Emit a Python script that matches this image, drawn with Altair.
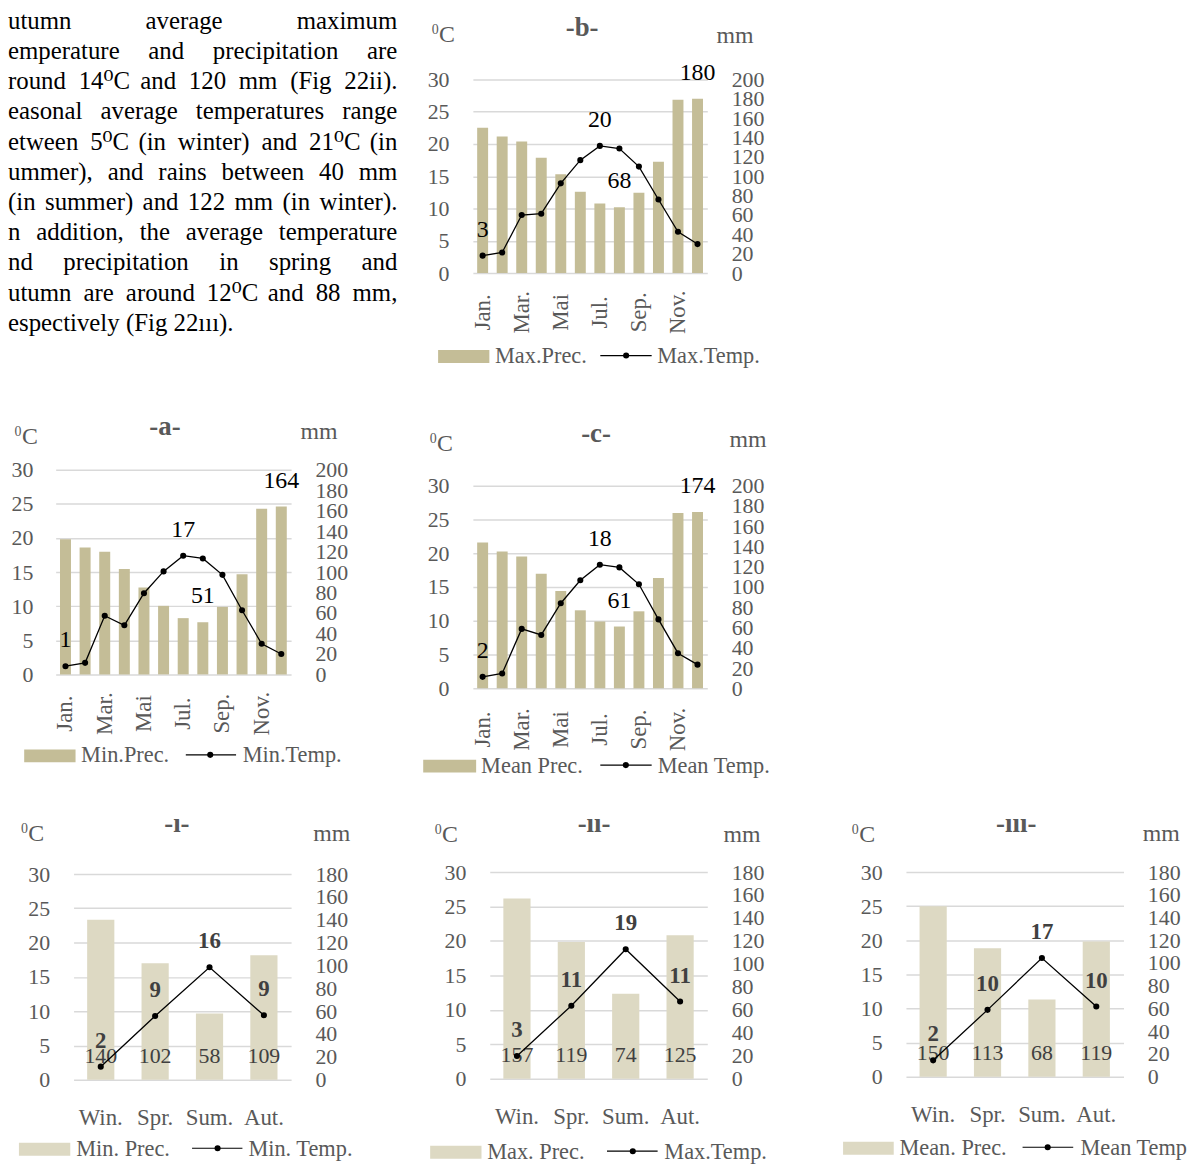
import altair as alt
import pandas as pd

FONT = "Liberation Serif, DejaVu Serif"
GRAY = "#595959"
DARK = "#404040"
TAN = "#C4BD97"
LIGHT = "#DDD9C3"
GRID = "#D9D9D9"
NOVIEW = alt.ViewBackground(stroke=None, strokeWidth=0)

# ---------------- data ----------------
months = ["Jan.", "Feb.", "Mar.", "Apr.", "Mai", "Jun.", "Jul.", "Aug.", "Sep.", "Oct.", "Nov.", "Dec."]
month_ticks = ["Jan.", "Mar.", "Mai", "Jul.", "Sep.", "Nov."]

min_temp = [1.2, 1.7, 8.6, 7.2, 11.9, 15.1, 17.4, 17.0, 14.6, 9.4, 4.5, 3.0]
min_prec = [132, 124, 120, 103, 85, 67, 55, 51, 66, 98, 162, 164]
max_temp = [2.7, 3.2, 9.0, 9.2, 13.9, 17.5, 19.7, 19.3, 16.5, 11.4, 6.4, 4.5]
max_prec = [150, 141, 136, 119, 102, 84, 72, 68, 83, 115, 179, 180]
mean_temp = [1.7, 2.2, 8.8, 7.9, 12.6, 16.0, 18.3, 17.9, 15.4, 10.2, 5.2, 3.5]
mean_prec = [144, 135, 130, 113, 96, 77, 66, 61, 76, 109, 173, 174]

seasons = ["Win.", "Spr.", "Sum.", "Aut."]
s_min_temp = [1.9, 9.3, 16.4, 9.4]
s_min_prec = [140, 102, 58, 109]
s_max_temp = [3.3, 10.6, 18.8, 11.2]
s_max_prec = [157, 119, 74, 125]
s_mean_temp = [2.4, 9.8, 17.4, 10.3]
s_mean_prec = [150, 113, 68, 119]

para_lines = [
    "utumn average maximum",
    "emperature and precipitation are",
    "round 14\u2070C and 120 mm (Fig 22ii).",
    "easonal average temperatures range",
    "etween 5\u2070C (in winter) and 21\u2070C (in",
    "ummer), and rains between 40 mm",
    "(in summer) and 122 mm (in winter).",
    "n addition, the average temperature",
    "nd precipitation in spring and",
    "utumn are around 12\u2070C and 88 mm,",
    "espectively (Fig 22\u0131\u0131\u0131).",
]

one = pd.DataFrame({"k": [0]})

# Times / Liberation Serif advance widths (em) used to justify the paragraph
CW = {" ": 0.25, "(": 0.333, ")": 0.333, ".": 0.25, ",": 0.25, "\u2070": 0.3,
      "C": 0.667, "F": 0.556, "S": 0.556, "I": 0.333, "\u0131": 0.278,
      "a": 0.444, "b": 0.5, "c": 0.444, "d": 0.5, "e": 0.444, "f": 0.333, "g": 0.5,
      "h": 0.5, "i": 0.278, "j": 0.278, "k": 0.5, "l": 0.278, "m": 0.778, "n": 0.5,
      "o": 0.5, "p": 0.5, "q": 0.5, "r": 0.333, "s": 0.389, "t": 0.278, "u": 0.5,
      "v": 0.5, "w": 0.722, "x": 0.5, "y": 0.5, "z": 0.444}


def tw(s, fs):
    return sum(CW.get(ch, 0.5) for ch in s) * fs


def frame(L, T, W, H, R, B):
    return alt.Chart(one).mark_rect(opacity=0, fillOpacity=0, strokeOpacity=0).encode(
        x=alt.value(-L), x2=alt.value(W + R), y=alt.value(-T), y2=alt.value(H + B))


def spacer(w, h):
    return alt.Chart(one).mark_rect(opacity=0, fillOpacity=0, strokeOpacity=0).encode(
        x=alt.value(0), x2=alt.value(w), y=alt.value(0), y2=alt.value(h)
    ).properties(width=w, height=h, view=NOVIEW)


def wrap(ch, h=1):
    return alt.concat(spacer(1, h), ch, columns=1, spacing=0)


def note(s, x, y, size, color=GRAY, weight="normal", align="center", baseline="middle"):
    return alt.Chart(one).mark_text(
        text=s, font=FONT, fontSize=size, fontWeight=weight, color=color,
        align=align, baseline=baseline).encode(x=alt.value(x), y=alt.value(y))


def panel(cats, temp, prec, title, leg_labels, g, annual):
    W, H, L, T, R, B = g["W"], g["H"], g["L"], g["T"], g["R"], g["B"]
    df = pd.DataFrame({"cat": cats, "temp": temp, "prec": prec})
    barcol = TAN if annual else LIGHT
    pdom = 200 if annual else 180
    if annual:
        df["tlab"] = [f"{v:.0f}" if v in (min(temp), max(temp)) else "" for v in temp]
        df["plab"] = [f"{v:.0f}" if v in (min(prec), max(prec)) else "" for v in prec]
        xaxis = alt.Axis(values=month_ticks, labelAngle=270, labelAlign="center",
                         labelBaseline="middle", labelPadding=g["xpad"], labelFontSize=23,
                         labelColor=GRAY, labelFont=FONT, domain=False, ticks=False,
                         grid=False, labelOverlap=False, title=None)
        sc = alt.Scale(type="band", paddingInner=0.44, paddingOuter=0.22)
    else:
        xaxis = alt.Axis(labelAngle=0, labelPadding=27, labelFontSize=23, labelColor=GRAY,
                         labelFont=FONT, domain=False, ticks=False, grid=False,
                         labelOverlap=False, title=None)
        sc = alt.Scale(type="band", paddingInner=0.5, paddingOuter=0.25)
    xenc = alt.X("cat:N", sort=cats, scale=sc, axis=xaxis)
    yP = alt.Y("prec:Q", scale=alt.Scale(domain=[0, pdom], nice=False),
               axis=alt.Axis(orient="right", values=list(range(0, pdom + 1, 20)), grid=False,
                             domain=False, ticks=False, labelPadding=24, labelFontSize=22,
                             labelColor=GRAY, labelFont=FONT, labelOverlap=False,
                             labelBound=False, title=None))
    yT = alt.Y("temp:Q", scale=alt.Scale(domain=[0, 30], nice=False),
               axis=alt.Axis(orient="left", values=[0, 5, 10, 15, 20, 25, 30], grid=True,
                             gridColor=GRID, gridWidth=1.5, domain=False, ticks=False,
                             labelPadding=g.get("lpad", 24), labelFontSize=22, labelColor=GRAY,
                             labelFont=FONT, labelOverlap=False, title=None))
    base = alt.Chart(df)
    bars = base.mark_bar(color=barcol).encode(x=xenc, y=yP)
    if annual:
        plab = base.mark_text(font=FONT, fontSize=24, color="black", dy=-26).encode(
            x=xenc, y=yP, text="plab:N")
        tlab = base.mark_text(font=FONT, fontSize=24, color="black", dy=-26).encode(
            x=xenc, y=yT, text="tlab:N")
    else:
        plab = base.mark_text(font=FONT, fontSize=22, color=DARK).encode(
            x=xenc, y=alt.value(H - 24), text=alt.Text("prec:Q", format=".0f"))
        tlab = base.mark_text(font=FONT, fontSize=23, fontWeight="bold", color=DARK, dy=-26).encode(
            x=xenc, y=yT, text=alt.Text("temp:Q", format=".0f"))
    line = base.mark_line(color="black", strokeWidth=1.3).encode(x=xenc, y=yT)
    pts = base.mark_circle(color="black", size=38, opacity=1).encode(x=xenc, y=yT)

    tx, ty = g["title"]
    cx, cy = g["deg"]
    mx, my = g["mm"]
    sx0, sx1, ly, t1x, lx0, lx1, dx, t2x = g["leg"]
    ly = H + ly
    ann = [
        note(title, tx, ty, 27, weight="bold"),
        note("0", cx - 8, cy - 4, 14),
        note("C", cx + 4, cy + 1, 24),
        note("mm", W + mx, my, 24),
        alt.Chart(one).mark_rect(color=barcol).encode(
            x=alt.value(sx0), x2=alt.value(sx1), y=alt.value(ly - 6.5), y2=alt.value(ly + 6.5)),
        note(leg_labels[0], t1x, ly + 6.5, 22.5, align="left", baseline="alphabetic"),
        alt.Chart(one).mark_rule(color="black", strokeWidth=1.2).encode(
            x=alt.value(lx0), x2=alt.value(lx1), y=alt.value(ly - 1)),
        alt.Chart(one).mark_circle(color="black", size=38, opacity=1).encode(
            x=alt.value(dx), y=alt.value(ly - 1)),
        note(leg_labels[1], t2x, ly + 6.5, 22.5, align="left", baseline="alphabetic"),
    ]
    layers = [frame(L, T, W, H, R, B), alt.layer(bars, plab), alt.layer(line, pts, tlab)] + ann
    return alt.layer(*layers).resolve_scale(y="independent").properties(
        width=W, height=H, view=NOVIEW)


# ---------------- paragraph ----------------
PW, PH, PFS = 411, 386, 25
words = []
for i, ln in enumerate(para_lines):
    ws = ln.split(" ")
    wl = [tw(w, PFS) for w in ws]
    if i < len(para_lines) - 1 and len(ws) > 1:
        gap = (392 - sum(wl)) / (len(ws) - 1)
    else:
        gap = tw(" ", PFS)
    x = 0.0
    for w, wd in zip(ws, wl):
        words.append({"w": w, "xpos": x, "ypos": -3 + 30.4 * i})
        x += wd + gap
pdf = pd.DataFrame(words)
para = alt.Chart(pdf).mark_text(font=FONT, fontSize=PFS, color="black", align="left",
                                baseline="top", clip=True).encode(
    x=alt.X("xpos:Q", scale=None, axis=None),
    y=alt.Y("ypos:Q", scale=None, axis=None),
    text="w:N")
P = alt.layer(frame(0, 0, PW, PH, 0, 0), para).properties(width=PW, height=PH, view=NOVIEW)

# ---------------- geometry ----------------
gb = dict(W=236, H=195, L=57, T=67, R=92, B=123, xpad=39,
          title=(110, -52), deg=(-30, -46), mm=(28, -44),
          leg=(-35, 16.6, 84, 22.3, 128.3, 180, 154.3, 185.6))
ga = dict(W=237, H=206, L=47, T=74, R=131, B=119, xpad=39, lpad=23,
          title=(110, -43), deg=(-30, -34), mm=(28, -37.5),
          leg=(-31.7, 20, 82, 25.6, 131, 181.6, 155.6, 188.3))
gc = dict(W=236, H=204, L=52, T=90, R=92, B=105, xpad=41,
          title=(124, -52), deg=(-32, -43), mm=(41, -46),
          leg=(-50, 3.3, 78.3, 8.3, 128.3, 180, 154, 186))
g1 = dict(W=219, H=207, L=65, T=81, R=131, B=81,
          title=(104, -50), deg=(-41.5, -41), mm=(41, -40),
          leg=(-55, -3.3, 70, 2.7, 119.3, 170, 145, 176))
g2 = dict(W=219, H=208, L=69, T=79, R=132, B=82,
          title=(105, -48), deg=(-44, -38), mm=(35, -37),
          leg=(-60, -8.3, 74, -2.6, 118, 169, 144, 175.7))
g3 = dict(W=219, H=206, L=68, T=79, R=73, B=84,
          title=(111, -48), deg=(-43, -38), mm=(38, -38),
          leg=(-63.3, -12.3, 72, -6.6, 117.4, 168.4, 142.7, 175.7))

cb = panel(months, max_temp, max_prec, "-b-", ("Max.Prec.", "Max.Temp."), gb, True)
ca = panel(months, min_temp, min_prec, "-a-", ("Min.Prec.", "Min.Temp."), ga, True)
cc = panel(months, mean_temp, mean_prec, "-c-", ("Mean Prec.", "Mean Temp."), gc, True)
c1 = panel(seasons, s_min_temp, s_min_prec, "-\u0131-", ("Min. Prec.", "Min. Temp."), g1, False)
c2 = panel(seasons, s_max_temp, s_max_prec, "-\u0131\u0131-", ("Max. Prec.", "Max.Temp."), g2, False)
c3 = panel(seasons, s_mean_temp, s_mean_prec, "-\u0131\u0131\u0131-", ("Mean. Prec.", "Mean Temp"), g3, False)

row1 = alt.concat(P, wrap(cb), columns=2, spacing=0)
row2 = alt.concat(spacer(1, 1), wrap(ca), wrap(cc), columns=3, spacing=0)
row3 = alt.concat(spacer(1, 1), wrap(c1), wrap(c2), wrap(c3), columns=4, spacing=0)

chart = (alt.concat(row1, row2, row3, columns=1, spacing=0)
         .properties(padding=0)
         .configure_view(stroke=None, strokeWidth=0)
         .configure(font=FONT))

chart.save("out.html", embed_options={"renderer": "svg", "actions": False})
